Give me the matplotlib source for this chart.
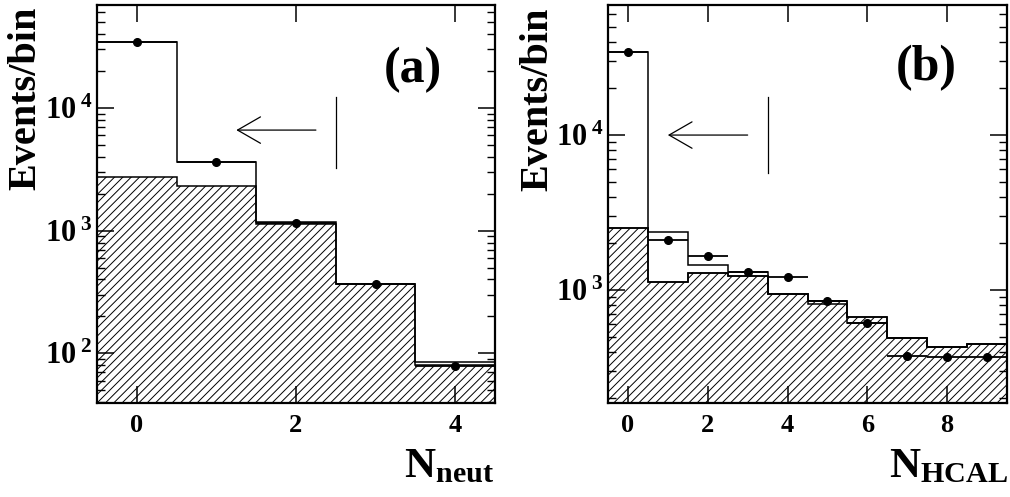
import matplotlib
matplotlib.use('Agg')
import matplotlib.pyplot as plt
import numpy as np
from matplotlib.ticker import FixedLocator, FuncFormatter, NullFormatter, LogLocator

plt.rcParams['font.family'] = 'Liberation Serif'
plt.rcParams['font.weight'] = 'bold'
plt.rcParams['mathtext.fontset'] = 'custom'
plt.rcParams['mathtext.rm'] = 'Liberation Serif:bold'
plt.rcParams['mathtext.bf'] = 'Liberation Serif:bold'
plt.rcParams['mathtext.it'] = 'Liberation Serif:bold'
plt.rcParams['hatch.linewidth'] = 0.7

#~~~~~~~~~~~~~~~~~~
# panel (a): N_neut
#~~~~~~~~~~~~~~~~~~
neut_n = [0, 1, 2, 3, 4]
neut_data = [34700, 3650, 1160, 366, 79]
neut_mc = [34700, 3650, 1185, 366, 85]
neut_bkg = [2720, 2310, 1130, 366, 81]
neut_cut = 2.5
neut_arrow = [2.25, 1.25]      # tail, tip
neut_line_y = [3250, 12300]
neut_arrow_y = 6600

#~~~~~~~~~~~~~~~~~~
# panel (b): N_HCAL
#~~~~~~~~~~~~~~~~~~
hcal_n = [0, 1, 2, 3, 4, 5, 6, 7, 8, 9]
hcal_data = [34400, 2120, 1660, 1313, 1210, 850, 615, 377, 371, 371]
hcal_mc = [34400, 1130, 1280, 1237, 940, 810, 615, 492, 430, 446]
hcal_mc2 = [2520, 2355, 1450, 1313, 940, 850, 673, 492, 430, 446]
hcal_bkg = [2520, 1130, 1280, 1237, 940, 850, 673, 492, 430, 446]
hcal_cut = 3.5
hcal_arrow = [3.0, 1.0]
hcal_line_y = [5660, 17700]
hcal_arrow_y = 10000


def edges_of(n):
    n = np.asarray(n, dtype=float)
    return np.append(n - 0.5, n[-1] + 0.5)


def sci_label(v, pos):
    e = int(round(np.log10(v)))
    return r'$\mathbf{10^{\;%d}}$' % e


def draw_panel(ax, n, data, mcs, bkg, cut, arrow, line_y, arrow_y, ylim, xticks):
    edges = edges_of(n)
    # hatched background
    ax.stairs(bkg, edges, fill=True, hatch='////', facecolor='none',
              edgecolor='k', lw=0, baseline=1e-3)
    ax.stairs(bkg, edges, color='k', lw=1.1, baseline=None)
    for mc in mcs:
        ax.stairs(mc, edges, color='k', lw=1.1, baseline=None)
    ax.errorbar(n, data, xerr=0.5, fmt='o', color='k', ms=5.5,
                elinewidth=1.3, capsize=0, zorder=5)

    # cut indicator
    ax.plot([cut, cut], line_y, color='k', lw=0.9)
    ax.annotate('', xy=(arrow[1], arrow_y), xytext=(arrow[0], arrow_y),
                arrowprops=dict(arrowstyle='->,head_length=1.65,head_width=0.95',
                                lw=0.9, color='k', shrinkA=0, shrinkB=0))

    ax.set_yscale('log')
    ax.set_xlim(edges[0], edges[-1])
    ax.set_ylim(*ylim)
    ax.xaxis.set_major_locator(FixedLocator(xticks))
    ax.yaxis.set_major_locator(LogLocator(base=10))
    ax.yaxis.set_minor_locator(LogLocator(base=10, subs=np.arange(2, 10)))
    ax.yaxis.set_major_formatter(FuncFormatter(sci_label))
    ax.yaxis.set_minor_formatter(NullFormatter())
    ax.tick_params(which='both', direction='in', top=True, right=True)
    ax.tick_params(axis='x', which='major', length=12, width=1.1, pad=8,
                   labelsize=19)
    ax.tick_params(axis='y', which='major', length=12, width=1.1, pad=3,
                   labelsize=22)
    ax.tick_params(axis='y', which='minor', length=6, width=1.0)
    ax.tick_params(axis='x', which='minor', bottom=False, top=False)
    for s in ax.spines.values():
        s.set_linewidth(1.6)


fig = plt.figure(figsize=(10.1, 4.97), dpi=100)
ax1 = fig.add_axes([97/1010, 94/497, 398/1010, 398/497])
ax2 = fig.add_axes([608/1010, 94/497, 399/1010, 398/497])

draw_panel(ax1, neut_n, neut_data, [neut_mc], neut_bkg, neut_cut, neut_arrow,
           neut_line_y, neut_arrow_y, (39.4, 69000), [0, 2, 4])
draw_panel(ax2, hcal_n, hcal_data, [hcal_mc, hcal_mc2], hcal_bkg, hcal_cut,
           hcal_arrow, hcal_line_y, hcal_arrow_y, (187, 69000), [0, 2, 4, 6, 8])

ax1.text(413/1010, 1-70/497, '(a)', transform=fig.transFigure, fontsize=36,
         ha='center', va='center')
ax2.text(926/1010, 1-68/497, '(b)', transform=fig.transFigure, fontsize=36,
         ha='center', va='center')

fig.text(26/1010, 1-98/497, 'Events/bin', rotation=90, fontsize=29,
         ha='center', va='center')
fig.text(538/1010, 1-99/497, 'Events/bin', rotation=90, fontsize=29,
         ha='center', va='center')

fig.text(494/1010, 1-486/497, r'$\mathbf{N_{neut}}$', fontsize=31,
         ha='right', va='bottom')
fig.text(1008/1010, 1-486/497, r'$\mathbf{N_{HCAL}}$', fontsize=31,
         ha='right', va='bottom')

fig.savefig('out.png', dpi=100)
